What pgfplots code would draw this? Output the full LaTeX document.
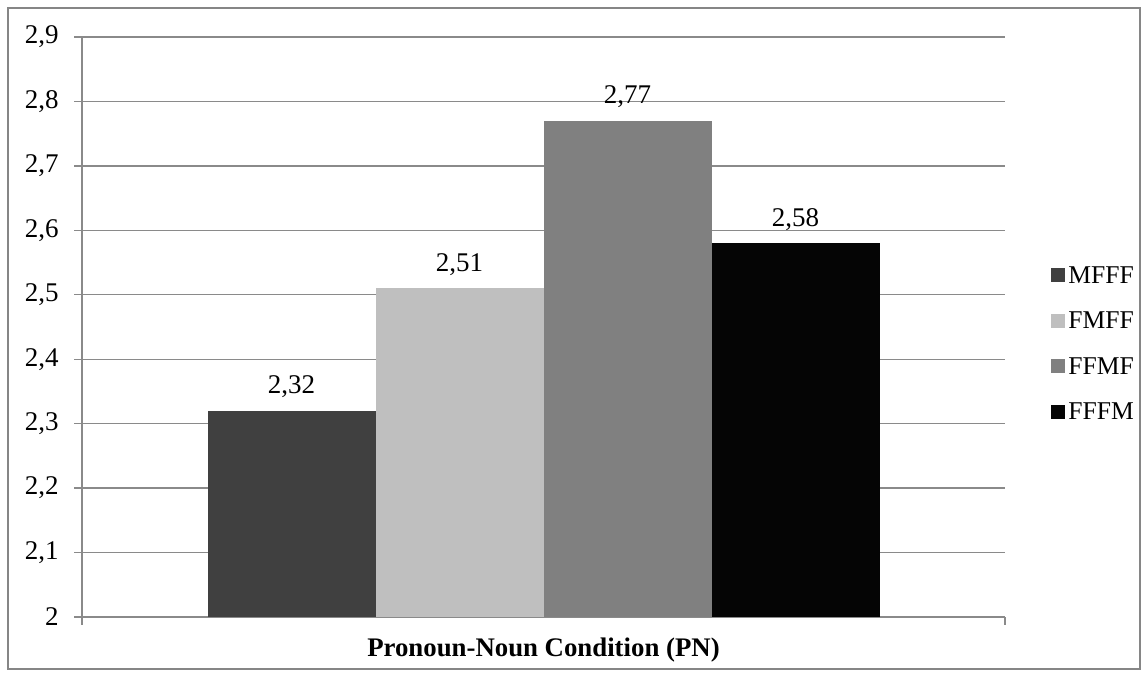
\documentclass[border=0pt]{standalone}
\usepackage{pgfplots}
\pgfplotsset{compat=1.18}
\usepackage{fontspec}
\setmainfont{Liberation Serif}
\definecolor{cA}{HTML}{404040}
\definecolor{cB}{HTML}{BFBFBF}
\definecolor{cC}{HTML}{808080}
\definecolor{cD}{HTML}{050505}
\definecolor{gridc}{HTML}{8A8A8A}
\definecolor{borderc}{HTML}{868686}
\begin{document}
\begin{tikzpicture}
\begin{axis}[
  name=ax,
  scale only axis,
  width=461.5pt, height=290pt,
  xmin=-1, xmax=1,
  ymin=2, ymax=2.9,
  ytick={2,2.1,2.2,2.3,2.4,2.5,2.6,2.7,2.8,2.9},
  xtick={-1,1},
  xticklabel=\empty,
  axis x line=bottom,
  axis y line=left,
  axis line style={-, draw=gridc, line width=0.7pt},
  ymajorgrids,
  grid style={draw=gridc, line width=0.7pt},
  tick style={draw=gridc, line width=0.7pt},
  major tick length=4pt,
  tick align=outside,
  /pgf/number format/assume math mode=true,
  yticklabel={\pgfmathprintnumber[fixed,precision=1,use comma]{\tick}},
  yticklabel style={font=\fontsize{13.5}{16}\selectfont, xshift=-4.2pt},
  ybar=0pt,
  bar width=84pt,
  nodes near coords={\pgfmathprintnumber[fixed,fixed zerofill,precision=2,use comma]{\pgfplotspointmeta}},
  every node near coord/.append style={font=\fontsize{13.5}{16}\selectfont, anchor=base, yshift=8.5pt},
  xlabel={Pronoun-Noun Condition (PN)},
  xlabel style={font=\fontsize{13.4}{16}\selectfont\bfseries, at={(axis description cs:0.5,0)}, anchor=base, yshift=-20pt},
  legend style={draw=none, fill=none, at={(axis description cs:1,0.5)}, anchor=west, xshift=20pt, yshift=-8.25pt,
    font=\fontsize{12.8}{15}\selectfont,
    nodes={text height=8pt, text depth=0pt, inner sep=0pt},
    row sep=14.75pt, column sep=1.5pt},
  legend cell align=left,
  legend image code/.code={\fill[#1] (0pt,-3.4pt) rectangle (7pt,3.4pt);},
  clip=false,
]
\addplot[fill=cA, draw=none] coordinates {(0,2.32)};
\addplot[fill=cB, draw=none] coordinates {(0,2.51)};
\addplot[fill=cC, draw=none] coordinates {(0,2.77)};
\addplot[fill=cD, draw=none] coordinates {(0,2.58)};
\legend{MFFF,FMFF,FFMF,FFFM}
\end{axis}
\draw[borderc, line width=1pt] ([xshift=-37pt,yshift=-26pt]ax.south west) rectangle ([xshift=67.5pt,yshift=14.5pt]ax.north east);
\path ([xshift=-41pt,yshift=-30pt]ax.south west) rectangle ([xshift=71.5pt,yshift=18.5pt]ax.north east);
\end{tikzpicture}
\end{document}
